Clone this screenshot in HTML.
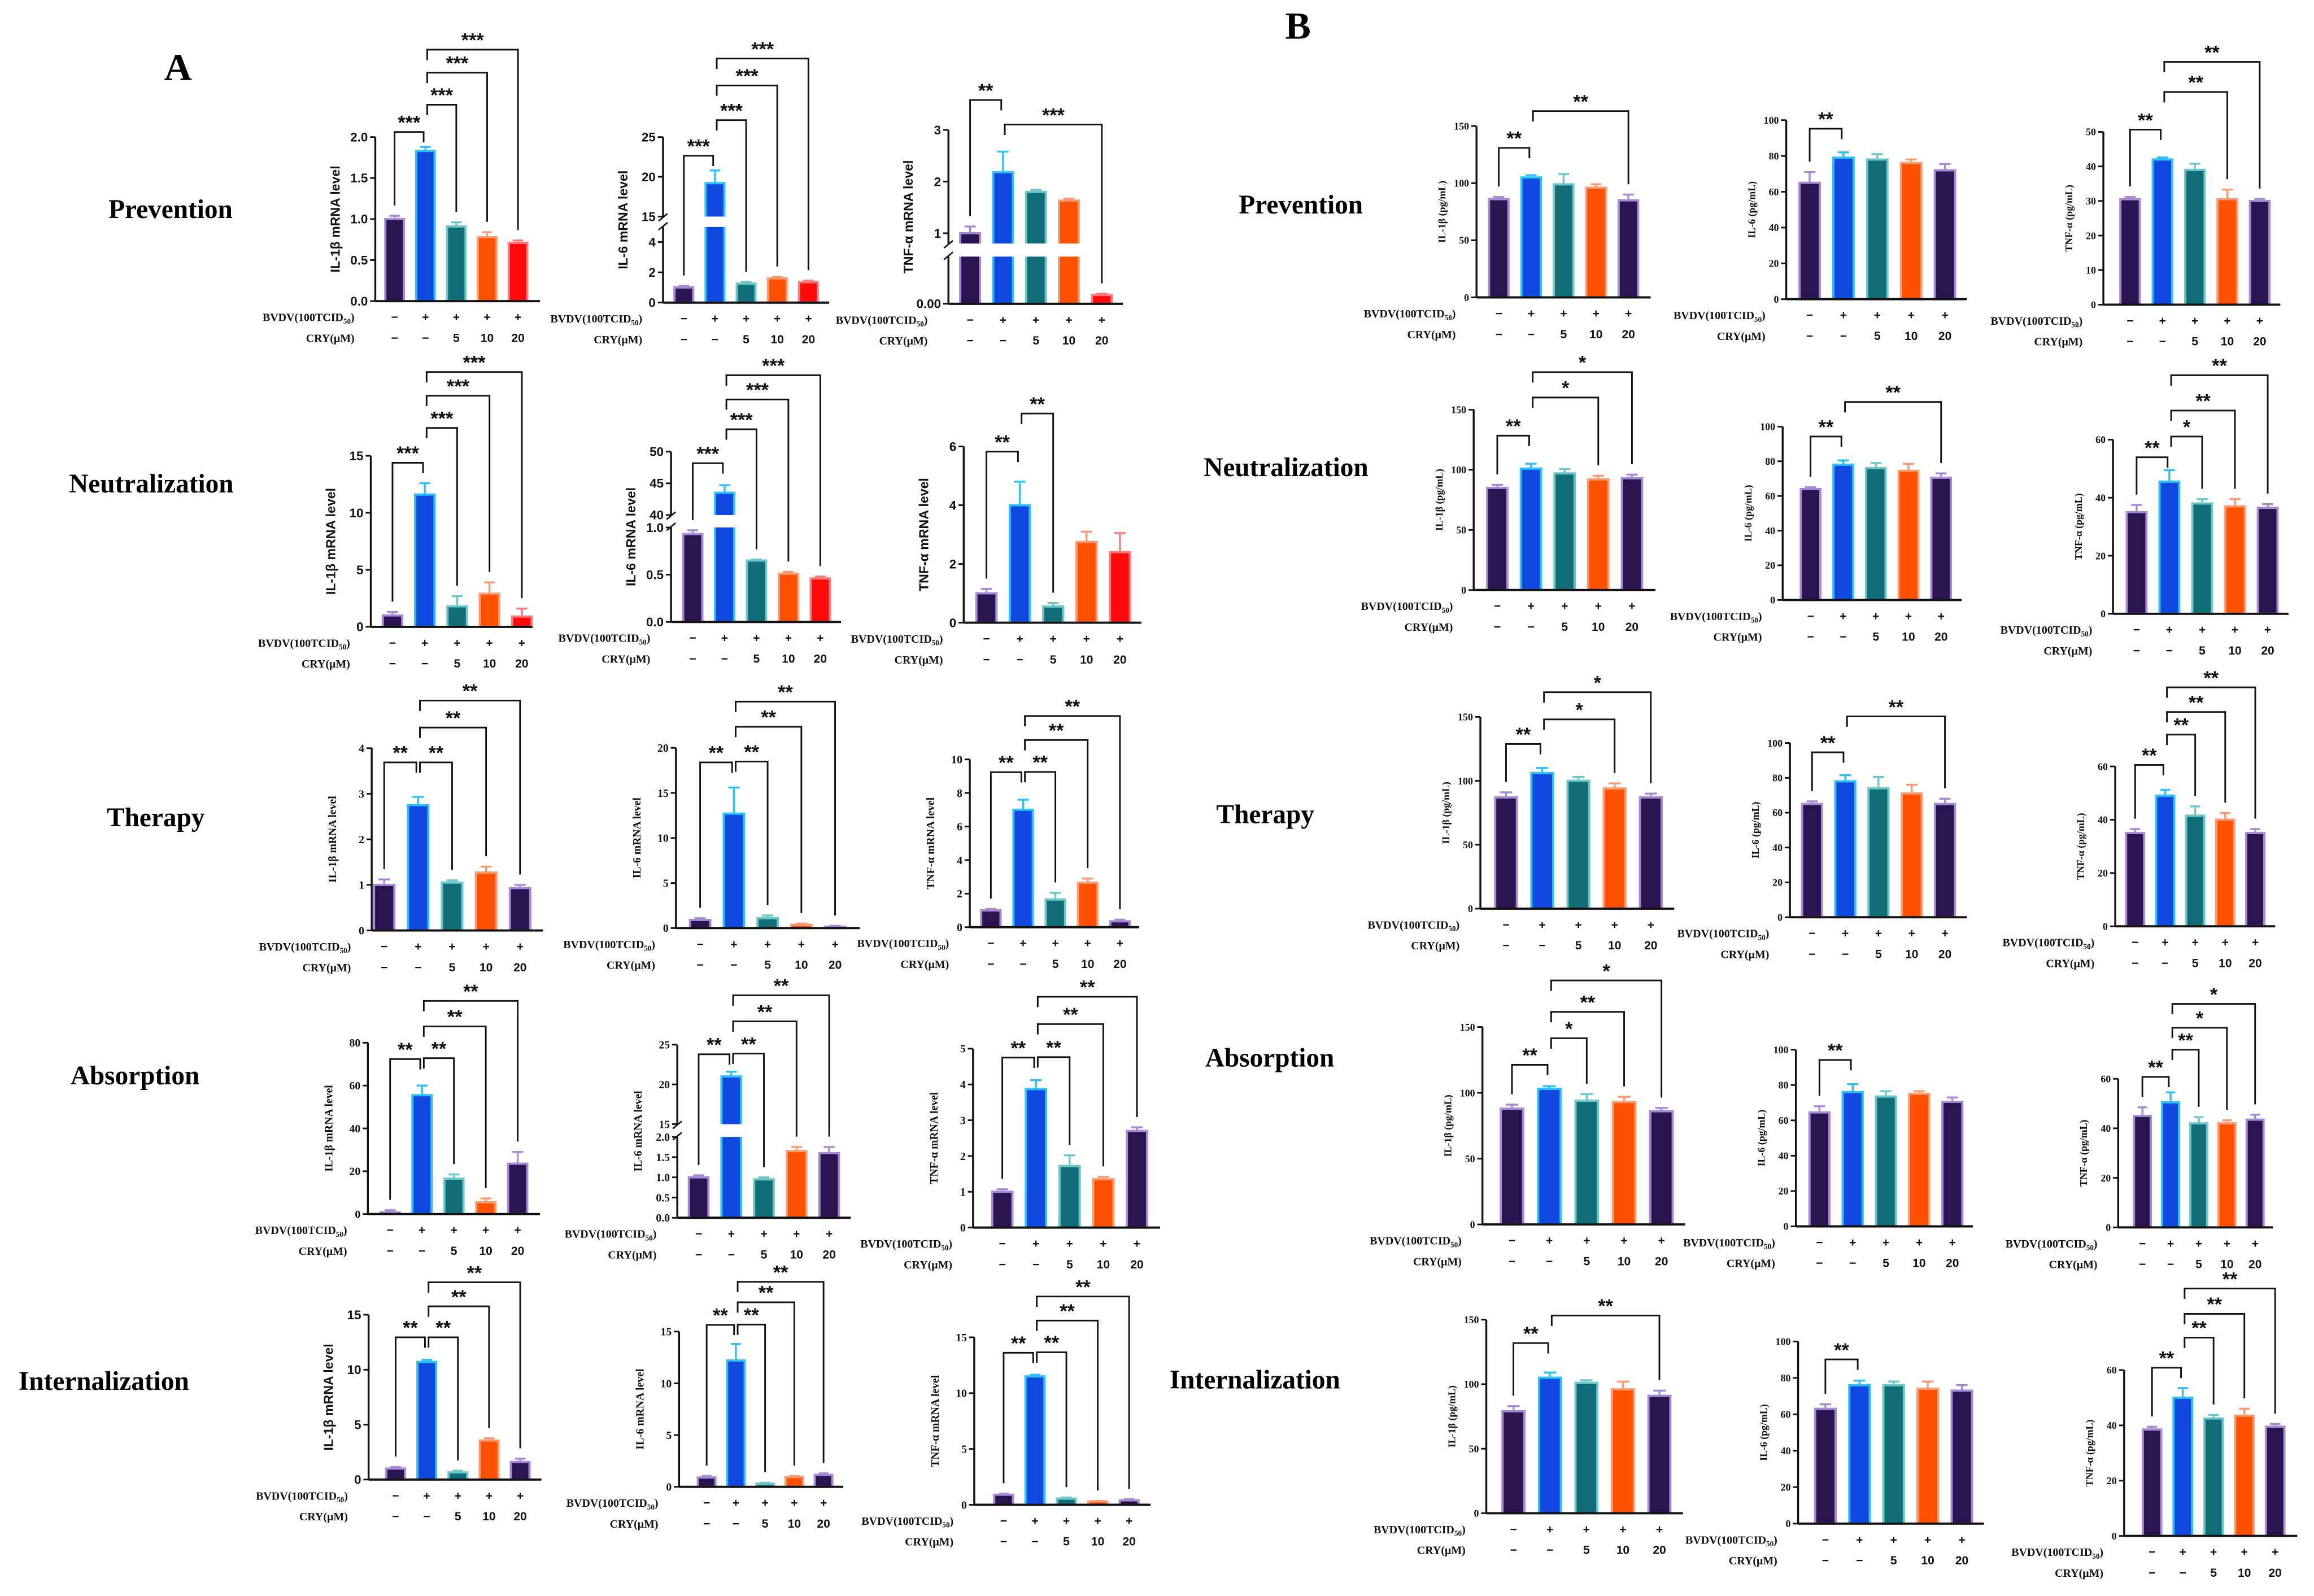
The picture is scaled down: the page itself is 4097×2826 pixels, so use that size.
<!DOCTYPE html>
<html><head><meta charset="utf-8"><style>
html,body{margin:0;padding:0;background:#fff;}
svg{display:block;}
</style></head><body>
<svg id="fig" xmlns="http://www.w3.org/2000/svg" width="4097" height="2826" viewBox="0 0 1560 1076" preserveAspectRatio="none">
<rect x="0" y="0" width="1560" height="1076" fill="#fff"/>
<text x="120" y="54" font-family="Liberation Serif, serif" font-weight="bold" font-size="26" text-anchor="middle">A</text>
<text x="875" y="26" font-family="Liberation Serif, serif" font-weight="bold" font-size="26" text-anchor="middle">B</text>
<g font-family="Liberation Serif, serif" font-weight="bold" font-size="18" text-anchor="middle">
<text x="115" y="147">Prevention</text>
<text x="102" y="332">Neutralization</text>
<text x="105" y="557">Therapy</text>
<text x="91" y="731">Absorption</text>
<text x="70" y="937">Internalization</text>
<text x="877" y="144">Prevention</text>
<text x="867" y="321">Neutralization</text>
<text x="853" y="555">Therapy</text>
<text x="856" y="719">Absorption</text>
<text x="846" y="936">Internalization</text>
</g>
</svg>
<script>
// ---------- shared categories ----------
const BVDV_SIGNS = ['−','+','+','+','+'];
const CRY_DOSES = ['−','−','5','10','20'];
const PAIRS_4 = [[0,1],[1,2],[1,3],[1,4]];

// ---------- data arrays (values, errors, ticks, significance) ----------
const A11_VALUES=[1.0,1.83,0.91,0.78,0.71]; const A11_ERRORS=[0.04,0.05,0.05,0.06,0.03];
const A11_TICKS=[0,0.5,1,1.5,2]; const A11_TICK_LABELS=['0.0','0.5','1.0','1.5','2.0'];
const A11_PAIRS=PAIRS_4; const A11_SIG=['***','***','***','***'];

const A12_VALUES=[1.0,19.2,1.25,1.6,1.35]; const A12_ERRORS=[0.1,1.6,0.1,0.1,0.1];
const A12_TICKS=[0,2,4,15,20,25]; const A12_TICK_LABELS=['0','2','4','15','20','25'];
const A12_PAIRS=PAIRS_4; const A12_SIG=['***','***','***','***'];

const A13_VALUES=[1.0,2.18,1.8,1.63,0.15]; const A13_ERRORS=[0.13,0.4,0.04,0.04,0.02];
const A13_TICKS=[0,1,2,3]; const A13_TICK_LABELS=['0.00','1','2','3'];
const A13_PAIRS=[[0,1],[1,4]]; const A13_SIG=['**','***'];

const A21_VALUES=[1.0,11.6,1.8,2.9,0.9]; const A21_ERRORS=[0.3,1.0,0.9,1.0,0.7];
const A21_TICKS=[0,5,10,15]; const A21_TICK_LABELS=['0','5','10','15'];
const A21_PAIRS=PAIRS_4; const A21_SIG=['***','***','***','***'];

const A22_VALUES=[0.93,43.5,0.65,0.51,0.46]; const A22_ERRORS=[0.04,1.2,0.01,0.02,0.02];
const A22_TICKS=[0,0.5,1,40,45,50]; const A22_TICK_LABELS=['0.0','0.5','1.0','40','45','50'];
const A22_PAIRS=PAIRS_4; const A22_SIG=['***','***','***','***'];

const A23_VALUES=[1.0,4.0,0.55,2.75,2.4]; const A23_ERRORS=[0.15,0.8,0.12,0.35,0.65];
const A23_TICKS=[0,2,4,6]; const A23_TICK_LABELS=['0','2','4','6'];
const A23_PAIRS=[[0,1],[1,2]]; const A23_SIG=['**','**'];

const A31_VALUES=[1.0,2.75,1.05,1.27,0.93]; const A31_ERRORS=[0.12,0.18,0.05,0.13,0.07];
const A31_TICKS=[0,1,2,3,4]; const A31_TICK_LABELS=['0','1','2','3','4'];
const A31_PAIRS=PAIRS_4; const A31_SIG=['**','**','**','**'];

const A32_VALUES=[0.9,12.7,1.1,0.35,0.15]; const A32_ERRORS=[0.2,2.9,0.3,0.15,0.1];
const A32_TICKS=[0,5,10,15,20]; const A32_TICK_LABELS=['0','5','10','15','20'];
const A32_PAIRS=PAIRS_4; const A32_SIG=['**','**','**','**'];

const A33_VALUES=[1.0,7.0,1.65,2.65,0.35]; const A33_ERRORS=[0.08,0.6,0.4,0.25,0.1];
const A33_TICKS=[0,2,4,6,8,10]; const A33_TICK_LABELS=['0','2','4','6','8','10'];
const A33_PAIRS=PAIRS_4; const A33_SIG=['**','**','**','**'];

const A41_VALUES=[0.8,55.5,16.5,5.5,23.5]; const A41_ERRORS=[1,4.5,2,1.8,5.5];
const A41_TICKS=[0,20,40,60,80]; const A41_TICK_LABELS=['0','20','40','60','80'];
const A41_PAIRS=PAIRS_4; const A41_SIG=['**','**','**','**'];

const A42_VALUES=[1.0,21.0,0.95,1.65,1.6]; const A42_ERRORS=[0.05,0.6,0.05,0.1,0.15];
const A42_TICKS=[0,0.5,1,1.5,2,15,20,25]; const A42_TICK_LABELS=['0.0','0.5','1.0','1.5','2.0','15','20','25'];
const A42_PAIRS=PAIRS_4; const A42_SIG=['**','**','**','**'];

const A43_VALUES=[1.0,3.87,1.72,1.35,2.7]; const A43_ERRORS=[0.07,0.25,0.3,0.07,0.1];
const A43_TICKS=[0,1,2,3,4,5]; const A43_TICK_LABELS=['0','1','2','3','4','5'];
const A43_PAIRS=PAIRS_4; const A43_SIG=['**','**','**','**'];

const A51_VALUES=[1.0,10.7,0.65,3.55,1.6]; const A51_ERRORS=[0.15,0.2,0.15,0.2,0.3];
const A51_TICKS=[0,5,10,15]; const A51_TICK_LABELS=['0','5','10','15'];
const A51_PAIRS=PAIRS_4; const A51_SIG=['**','**','**','**'];

const A52_VALUES=[0.9,12.2,0.3,0.95,1.15]; const A52_ERRORS=[0.15,1.6,0.1,0.1,0.15];
const A52_TICKS=[0,5,10,15]; const A52_TICK_LABELS=['0','5','10','15'];
const A52_PAIRS=PAIRS_4; const A52_SIG=['**','**','**','**'];

const A53_VALUES=[0.9,11.5,0.55,0.3,0.4]; const A53_ERRORS=[0.1,0.15,0.1,0.05,0.1];
const A53_TICKS=[0,5,10,15]; const A53_TICK_LABELS=['0','5','10','15'];
const A53_PAIRS=PAIRS_4; const A53_SIG=['**','**','**','**'];

const B11_VALUES=[86,105,99,96,85]; const B11_ERRORS=[2,2,9,3,5];
const B11_TICKS=[0,50,100,150]; const B11_PAIRS=[[0,1],[1,4]]; const B11_SIG=['**','**'];
const B12_VALUES=[65,79,78,76,72]; const B12_ERRORS=[6,3,3,2,3.5];
const B12_TICKS=[0,20,40,60,80,100]; const B12_PAIRS=[[0,1]]; const B12_SIG=['**'];
const B13_VALUES=[30.5,42,39,30.5,30]; const B13_ERRORS=[0.7,0.6,1.8,2.8,0.6];
const B13_TICKS=[0,10,20,30,40,50]; const B13_PAIRS=[[0,1],[1,3],[1,4]]; const B13_SIG=['**','**','**'];

const B21_VALUES=[85,101,97,92,93]; const B21_ERRORS=[2.5,4,3.5,3,3];
const B21_TICKS=[0,50,100,150]; const B21_PAIRS=[[0,1],[1,3],[1,4]]; const B21_SIG=['**','*','*'];
const B22_VALUES=[64,78,76,74.5,70.5]; const B22_ERRORS=[1,2.5,3,4,2.5];
const B22_TICKS=[0,20,40,60,80,100]; const B22_PAIRS=[[0,1],[1,4]]; const B22_SIG=['**','**'];
const B23_VALUES=[35,45.5,38,37,36.5]; const B23_ERRORS=[2.5,4,1.5,2.5,1.3];
const B23_TICKS=[0,20,40,60]; const B23_PAIRS=PAIRS_4; const B23_SIG=['**','*','**','**'];

const B31_VALUES=[87,106,100,94,87]; const B31_ERRORS=[4,4,3,4,3];
const B31_TICKS=[0,50,100,150]; const B31_PAIRS=[[0,1],[1,3],[1,4]]; const B31_SIG=['**','*','*'];
const B32_VALUES=[65,78,74,71,65]; const B32_ERRORS=[1.5,3.5,6.5,5,3];
const B32_TICKS=[0,20,40,60,80,100]; const B32_PAIRS=[[0,1],[1,4]]; const B32_SIG=['**','**'];
const B33_VALUES=[35,49,41.5,40,35]; const B33_ERRORS=[1.5,2.2,3.5,2.5,1.5];
const B33_TICKS=[0,20,40,60]; const B33_PAIRS=PAIRS_4; const B33_SIG=['**','**','**','**'];

const B41_VALUES=[88,103,94,93,86]; const B41_ERRORS=[3,2,5,4,2.5];
const B41_TICKS=[0,50,100,150]; const B41_PAIRS=PAIRS_4; const B41_SIG=['**','*','**','*'];
const B42_VALUES=[64.5,76,73.5,75,70.5]; const B42_ERRORS=[3.5,4.5,3,1.5,2.5];
const B42_TICKS=[0,20,40,60,80,100]; const B42_PAIRS=[[0,1]]; const B42_SIG=['**'];
const B43_VALUES=[45,50.5,42,42,43.5]; const B43_ERRORS=[3.5,4,2.5,1.3,2];
const B43_TICKS=[0,20,40,60]; const B43_PAIRS=PAIRS_4; const B43_SIG=['**','**','*','*'];

const B51_VALUES=[79,105,101,96,91]; const B51_ERRORS=[4,4,2,6,4];
const B51_TICKS=[0,50,100,150]; const B51_PAIRS=[[0,1],[1,4]]; const B51_SIG=['**','**'];
const B52_VALUES=[63,76,76,74,73]; const B52_ERRORS=[2.5,2.5,2,4,3];
const B52_TICKS=[0,20,40,60,80,100]; const B52_PAIRS=[[0,1]]; const B52_SIG=['**'];
const B53_VALUES=[38.5,50,42.5,43.5,39.5]; const B53_ERRORS=[1,3.5,1.3,2.5,1];
const B53_TICKS=[0,20,40,60]; const B53_PAIRS=PAIRS_4; const B53_SIG=['**','**','**','**'];

// ---------- layout (positions only) ----------
const A_LAB=['IL-1β mRNA level','IL-6 mRNA level','TNF-α  mRNA level'];
const B_LAB=['IL-1β (pg/mL)','IL-6 (pg/mL)','TNF-α (pg/mL)'];
const PANELS=[
 {id:'a11',v:A11_VALUES,e:A11_ERRORS,t:A11_TICKS,tl:A11_TICK_LABELS,pr:A11_PAIRS,sg:A11_SIG,ax:253,yb:203,yt:92.4,xe:364,x0:266,st:20.8,lv:[89,70.6,49,33.5],red:1,yl:A_LAB[0]},
 {id:'a12',v:A12_VALUES,e:A12_ERRORS,t:A12_TICKS,tl:A12_TICK_LABELS,pr:A12_PAIRS,sg:A12_SIG,ax:447,yb:204,yt:92.4,xe:559,x0:461,st:21,lv:[105,81,57.6,39.5],red:1,yl:A_LAB[1],brk:{L:5,yL:153,H:15,yH:146}},
 {id:'a13',v:A13_VALUES,e:A13_ERRORS,t:A13_TICKS,tl:A13_TICK_LABELS,pr:A13_PAIRS,sg:A13_SIG,ax:639.4,yb:204.8,yt:87.6,xe:757,x0:654,st:22.2,lv:[67.4,84],red:1,yl:A_LAB[2],brk:{L:0.8,yL:173,H:0.8,yH:164.2}},
 {id:'a21',v:A21_VALUES,e:A21_ERRORS,t:A21_TICKS,tl:A21_TICK_LABELS,pr:A21_PAIRS,sg:A21_SIG,ax:250,yb:422.6,yt:307.3,xe:359,x0:264.6,st:21.8,lv:[312,288.5,266.8,250.8],red:1,yl:'IL-1β   mRNA level'},
 {id:'a22',v:A22_VALUES,e:A22_ERRORS,t:A22_TICKS,tl:A22_TICK_LABELS,pr:A22_PAIRS,sg:A22_SIG,ax:452.4,yb:419.3,yt:304.5,xe:567,x0:467,st:21.5,lv:[312.3,289.4,269.3,253],red:1,yl:A_LAB[1],brk:{L:1,yL:355.6,H:40,yH:347.2}},
 {id:'a23',v:A23_VALUES,e:A23_ERRORS,t:A23_TICKS,tl:A23_TICK_LABELS,pr:A23_PAIRS,sg:A23_SIG,ax:649.7,yb:419.8,yt:301,xe:769.5,x0:665,st:22.5,lv:[304.5,278.8],red:1,yl:A_LAB[2]},
 {id:'a31',v:A31_VALUES,e:A31_ERRORS,t:A31_TICKS,tl:A31_TICK_LABELS,pr:A31_PAIRS,sg:A31_SIG,ax:250.6,yb:627.3,yt:504.4,xe:366,x0:259,st:22.9,lv:[514,514,490.5,472.3],yl:'IL-1β mRNA level',serif:1},
 {id:'a32',v:A32_VALUES,e:A32_ERRORS,t:A32_TICKS,tl:A32_TICK_LABELS,pr:A32_PAIRS,sg:A32_SIG,ax:455.7,yb:625.7,yt:504.2,xe:579.6,x0:472,st:22.75,lv:[514,513.4,490,473],yl:'IL-6 mRNA level',serif:1},
 {id:'a33',v:A33_VALUES,e:A33_ERRORS,t:A33_TICKS,tl:A33_TICK_LABELS,pr:A33_PAIRS,sg:A33_SIG,ax:653.8,yb:625.1,yt:512,xe:768,x0:668,st:21.75,lv:[520.6,520.4,498.9,482.7],yl:'TNF-α mRNA level',serif:1},
 {id:'a41',v:A41_VALUES,e:A41_ERRORS,t:A41_TICKS,tl:A41_TICK_LABELS,pr:A41_PAIRS,sg:A41_SIG,ax:248,yb:818.5,yt:703,xe:364,x0:263,st:21.5,lv:[714,713.4,692,674.8],yl:'IL-1β mRNA level',serif:1},
 {id:'a42',v:A42_VALUES,e:A42_ERRORS,t:A42_TICKS,tl:A42_TICK_LABELS,pr:A42_PAIRS,sg:A42_SIG,ax:456.6,yb:821,yt:704.3,xe:573.5,x0:471,st:22,lv:[710.8,710.3,688.6,671],yl:'IL-6 mRNA level',serif:1,brk:{L:2,yL:766.5,H:15,yH:757.9}},
 {id:'a43',v:A43_VALUES,e:A43_ERRORS,t:A43_TICKS,tl:A43_TICK_LABELS,pr:A43_PAIRS,sg:A43_SIG,ax:656,yb:827.6,yt:707,xe:782,x0:675.7,st:22.7,lv:[713,712.7,690.4,672],yl:'TNF-α  mRNA level',serif:1},
 {id:'a51',v:A51_VALUES,e:A51_ERRORS,t:A51_TICKS,tl:A51_TICK_LABELS,pr:A51_PAIRS,sg:A51_SIG,ax:248.5,yb:997.5,yt:886.4,xe:365,x0:266.7,st:21,lv:[901.6,901.6,880.7,864.5],yl:'IL-1β mRNA level'},
 {id:'a52',v:A52_VALUES,e:A52_ERRORS,t:A52_TICKS,tl:A52_TICK_LABELS,pr:A52_PAIRS,sg:A52_SIG,ax:457.8,yb:1002.4,yt:897.7,xe:568.5,x0:476.4,st:19.7,lv:[893.2,893,878,864.2],yl:'IL-6 mRNA level',serif:1},
 {id:'a53',v:A53_VALUES,e:A53_ERRORS,t:A53_TICKS,tl:A53_TICK_LABELS,pr:A53_PAIRS,sg:A53_SIG,ax:656.8,yb:1014.5,yt:901.6,xe:775.7,x0:676.6,st:21.15,lv:[912,911.7,890.3,874.1],yl:'TNF-α  mRNA level',serif:1},
 {id:'b11',v:B11_VALUES,e:B11_ERRORS,t:B11_TICKS,pr:B11_PAIRS,sg:B11_SIG,ax:995.4,yb:200.5,yt:85,xe:1112.8,x0:1010.4,st:21.85,lv:[99.7,74.9],yl:B_LAB[0],b:1},
 {id:'b12',v:B12_VALUES,e:B12_ERRORS,t:B12_TICKS,pr:B12_PAIRS,sg:B12_SIG,ax:1204.2,yb:201.7,yt:81,xe:1326,x0:1220,st:22.8,lv:[86.8],yl:B_LAB[1],b:1},
 {id:'b13',v:B13_VALUES,e:B13_ERRORS,t:B13_TICKS,pr:B13_PAIRS,sg:B13_SIG,ax:1418,yb:205.4,yt:88.9,xe:1537.3,x0:1436,st:21.85,lv:[87.4,62,41.7],yl:B_LAB[2],b:1},
 {id:'b21',v:B21_VALUES,e:B21_ERRORS,t:B21_TICKS,pr:B21_PAIRS,sg:B21_SIG,ax:993.5,yb:397.8,yt:276.2,xe:1116,x0:1009.4,st:22.7,lv:[293.7,268,250.9],yl:B_LAB[0],b:1},
 {id:'b22',v:B22_VALUES,e:B22_ERRORS,t:B22_TICKS,pr:B22_PAIRS,sg:B22_SIG,ax:1201.8,yb:404.5,yt:287.6,xe:1322.5,x0:1220.6,st:22,lv:[294.3,271],yl:B_LAB[1],b:1},
 {id:'b23',v:B23_VALUES,e:B23_ERRORS,t:B23_TICKS,pr:B23_PAIRS,sg:B23_SIG,ax:1424.5,yb:413.8,yt:296.4,xe:1542.8,x0:1440.4,st:22.1,lv:[308.3,294.3,276.8,253],yl:B_LAB[2],b:1},
 {id:'b31',v:B31_VALUES,e:B31_ERRORS,t:B31_TICKS,pr:B31_PAIRS,sg:B31_SIG,ax:998,yb:612.6,yt:483.3,xe:1128.7,x0:1015.3,st:24.4,lv:[501.6,485,466.7],yl:B_LAB[0],b:1},
 {id:'b32',v:B32_VALUES,e:B32_ERRORS,t:B32_TICKS,pr:B32_PAIRS,sg:B32_SIG,ax:1206.7,yb:618.4,yt:500.9,xe:1326,x0:1221.6,st:22.4,lv:[507.2,483],yl:B_LAB[1],b:1},
 {id:'b33',v:B33_VALUES,e:B33_ERRORS,t:B33_TICKS,pr:B33_PAIRS,sg:B33_SIG,ax:1426,yb:624.5,yt:516.7,xe:1533.8,x0:1439.4,st:20.25,lv:[515.7,495.3,480,463.4],yl:B_LAB[2],b:1},
 {id:'b41',v:B41_VALUES,e:B41_ERRORS,t:B41_TICKS,pr:B41_PAIRS,sg:B41_SIG,ax:999.4,yb:825.5,yt:692.4,xe:1136.1,x0:1019.3,st:25.2,lv:[717.9,700,682.2,661],yl:B_LAB[0],b:1},
 {id:'b42',v:B42_VALUES,e:B42_ERRORS,t:B42_TICKS,pr:B42_PAIRS,sg:B42_SIG,ax:1210.7,yb:826.8,yt:707.7,xe:1330,x0:1226.6,st:22.4,lv:[714.6],yl:B_LAB[1],b:1},
 {id:'b43',v:B43_VALUES,e:B43_ERRORS,t:B43_TICKS,pr:B43_PAIRS,sg:B43_SIG,ax:1428,yb:827.5,yt:727.3,xe:1532.3,x0:1444.3,st:19,lv:[726,707.7,692.9,676.8],yl:B_LAB[2],b:1},
 {id:'b51',v:B51_VALUES,e:B51_ERRORS,t:B51_TICKS,pr:B51_PAIRS,sg:B51_SIG,ax:1002,yb:1020.2,yt:889.7,xe:1134.6,x0:1020.3,st:24.6,lv:[905.5,886.9],yl:B_LAB[0],b:1},
 {id:'b52',v:B52_VALUES,e:B52_ERRORS,t:B52_TICKS,pr:B52_PAIRS,sg:B52_SIG,ax:1212.2,yb:1027.2,yt:904.4,xe:1337.5,x0:1230.6,st:23,lv:[916.5],yl:B_LAB[1],b:1},
 {id:'b53',v:B53_VALUES,e:B53_ERRORS,t:B53_TICKS,pr:B53_PAIRS,sg:B53_SIG,ax:1432,yb:1035.5,yt:923.7,xe:1548.7,x0:1450.8,st:20.75,lv:[922.1,901.8,885.8,868.7],yl:B_LAB[2],b:1}
];

const FILLS=['#2a1450','#1048e0','#0f6e78','#ff5000'];
const EDGES=['#a58ad8','#2bc0ff','#6cc8c8','#ff9a70'];
const NS='http://www.w3.org/2000/svg';
const svg=document.getElementById('fig');
const SANS='Liberation Sans, sans-serif', SERIF='Liberation Serif, serif';

function mk(tag, attrs, parent){
  const e=document.createElementNS(NS,tag);
  for(const k in attrs) e.setAttribute(k, attrs[k]);
  parent.appendChild(e);
  return e;
}

function yScale(p){
  const max=p.t[p.t.length-1];
  if(!p.brk) return v=>p.yb - v/max*(p.yb-p.yt);
  const b=p.brk;
  return v=> v<=b.L ? p.yb - v/b.L*(p.yb-b.yL)
           : (v<b.H ? b.yL : b.yH - (v-b.H)/(max-b.H)*(b.yH-p.yt));
}

function drawPanel(p){
  const g=mk('g',{},svg);
  
  
  const y=yScale(p);
  const xs=i=>p.x0+i*p.st;
  const bw=p.st*0.6;
  const tickFont=p.b?SERIF:(p.serif?SERIF:SANS);
  const tfs=p.b?6.8:(p.serif?7.5:8.5);

  // y axis
  const axG=mk('g',{},g);
  
  
  if(p.brk){
    mk('line',{x1:p.ax,y1:p.yb,x2:p.ax,y2:p.brk.yL,stroke:'#111','stroke-width':1.3},axG);
    mk('line',{x1:p.ax,y1:p.brk.yH,x2:p.ax,y2:p.yt,stroke:'#111','stroke-width':1.3},axG);
    mk('line',{x1:p.ax-3,y1:p.brk.yL+2,x2:p.ax+3,y2:p.brk.yL-3,stroke:'#111','stroke-width':1},axG);
    mk('line',{x1:p.ax-3,y1:p.brk.yH+3,x2:p.ax+3,y2:p.brk.yH-2,stroke:'#111','stroke-width':1},axG);
  } else {
    mk('line',{x1:p.ax,y1:p.yb,x2:p.ax,y2:p.yt,stroke:'#111','stroke-width':1.3},axG);
  }
  p.t.forEach((tv,i)=>{
    const ty=y(tv);
    mk('line',{x1:p.ax-3.5,y1:ty,x2:p.ax,y2:ty,stroke:'#111','stroke-width':1.1},axG);
    const lab=p.tl?p.tl[i]:String(tv);
    const tx=mk('text',{x:p.ax-5,y:ty+tfs*0.35,'font-family':tickFont,'font-weight':'bold','font-size':tfs,'text-anchor':'end',fill:'#111'},axG);
    tx.textContent=lab;
    
    
  });
  // y label
  const ylx=p.ax-(p.b?21:24);
  const ymid=(p.yb+p.yt)/2;
  const yl=mk('text',{x:ylx,y:ymid,transform:`rotate(-90 ${ylx} ${ymid})`,'font-family':(p.b||p.serif)?SERIF:SANS,'font-weight':'bold','font-size':p.b?6.8:(p.serif?7.5:8.8),'text-anchor':'middle',fill:'#111'},g);
  yl.textContent=p.yl;
  
  

  // bars
  p.v.forEach((val,i)=>{
    const last=(i===4);
    const fill=last?(p.red?'#ff0a0a':FILLS[0]):FILLS[i];
    const edge=last?(p.red?'#ff7a7a':EDGES[0]):EDGES[i];
    const top=y(val);
    const r=mk('rect',{x:xs(i)-bw/2,y:top,width:bw,height:Math.max(0,p.yb-top),fill:fill,stroke:edge,'stroke-width':1.5},g);
    
    
    if(p.brk && val>p.brk.H){
      mk('rect',{x:xs(i)-bw/2-1.5,y:p.brk.yH,width:bw+3,height:p.brk.yL-p.brk.yH,fill:'#fff'},g);
    }
    const et=y(val+p.e[i]);
    const eb=mk('path',{d:`M${xs(i)} ${top} V${et} M${xs(i)-bw*0.28} ${et} H${xs(i)+bw*0.28}`,stroke:edge,'stroke-width':1.3,fill:'none'},g);
    
    
  });
  // x axis
  const xa=mk('line',{x1:p.ax,y1:p.yb,x2:p.xe,y2:p.yb,stroke:'#111','stroke-width':1.5},g);
  
  

  // treatment rows
  const r1=p.yb+13.5, r2=p.yb+27.5;
  const bl=mk('text',{x:p.ax-14,y:r1,'font-family':SERIF,'font-weight':'bold','font-size':7.6,'text-anchor':'end',fill:'#111'},g);
  
  
  bl.appendChild(document.createTextNode('BVDV(100TCID'));
  const sub=mk('tspan',{'font-size':5,dy:1.8},bl); sub.textContent='50';
  const cl=mk('tspan',{dy:-1.8},bl); cl.textContent=')';
  const cr=mk('text',{x:p.ax-14,y:r2,'font-family':SERIF,'font-weight':'bold','font-size':7.6,'text-anchor':'end',fill:'#111'},g);
  cr.textContent='CRY(μM)';
  
  
  BVDV_SIGNS.forEach((s,i)=>{
    const t=mk('text',{x:xs(i),y:r1,'font-family':SANS,'font-weight':'bold','font-size':8,'text-anchor':'middle',fill:'#111'},g);
    t.textContent=s;
    
    
  });
  CRY_DOSES.forEach((s,i)=>{
    const t=mk('text',{x:xs(i),y:r2,'font-family':SANS,'font-weight':'bold','font-size':8,'text-anchor':'middle',fill:'#111'},g);
    t.textContent=s;
    
    
  });

  // significance brackets
  p.pr.forEach((pr,k)=>{
    const [a,b]=pr; const ly=p.lv[k];
    const xa_=xs(a)+(a===1?1.2:0), xb_=xs(b)-(b===1?1.2:0);
    const legEnd=(idx)=> idx===1 ? ly+7 : Math.max(ly+4, y(p.v[idx]+p.e[idx])-7);
    const br=mk('path',{d:`M${xa_} ${legEnd(a)} V${ly} H${xb_} V${legEnd(b)}`,stroke:'#111','stroke-width':1.1,fill:'none'},g);
    
    
    const st=mk('text',{x:(xa_+xb_)/2,y:ly-2,'font-family':SANS,'font-weight':'bold','font-size':13,'text-anchor':'middle',fill:'#111'},g);
    st.textContent=p.sg[k];
    
    
  });
}
PANELS.forEach(drawPanel);
</script>
</body></html>
